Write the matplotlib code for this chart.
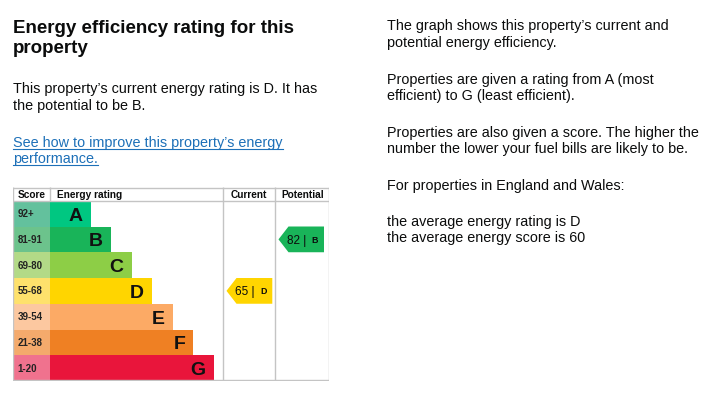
import matplotlib
matplotlib.use('Agg')
import matplotlib.pyplot as plt
from matplotlib.lines import Line2D

# ---------------- data ----------------
bands = ['A', 'B', 'C', 'D', 'E', 'F', 'G']
score_ranges = ['92+', '81-91', '69-80', '55-68', '39-54', '21-38', '1-20']
band_min = [92, 81, 69, 55, 39, 21, 1]
band_colors = ['#00c781', '#19b459', '#8dce46', '#ffd500', '#fcaa65', '#ef8023', '#e9153b']
score_colors = ['#63c19d', '#6cc38c', '#b3da87', '#fee16c', '#fcc8a0', '#f4aa6c', '#f0728e']
headers = ['Score', 'Energy rating', 'Current', 'Potential']
current_score = 65
potential_score = 82

title_lines = ['Energy efficiency rating for this', 'property']
intro_lines = ['This property\u2019s current energy rating is D. It has',
               'the potential to be B.']
link_lines = ['See how to improve this property\u2019s energy', 'performance.']
right_lines = [
    ('The graph shows this property\u2019s current and', 30.0),
    ('potential energy efficiency.', 46.7),
    ('Properties are given a rating from A (most', 84.0),
    ('efficient) to G (least efficient).', 100.0),
    ('Properties are also given a score. The higher the', 136.7),
    ('number the lower your fuel bills are likely to be.', 152.7),
    ('For properties in England and Wales:', 190.0),
    ('the average energy rating is D', 226.0),
    ('the average energy score is 60', 241.7),
]

# ---------------- figure ----------------
W, H, DPI = 711, 396, 100
plt.rcParams['font.family'] = ['Liberation Sans', 'DejaVu Sans']
fig = plt.figure(figsize=(W / DPI, H / DPI), dpi=DPI)
fig.patch.set_facecolor('white')

page = fig.add_axes([0, 0, 1, 1])
page.set_xlim(0, W)
page.set_ylim(H, 0)
page.axis('off')

TXT = '#0b0c0c'
LINK = '#1d70b8'
BODY = 10.4

# title
for line, y in zip(title_lines, [32.7, 52.7]):
    page.text(13.3, y, line, fontsize=13.5, fontweight='bold', color=TXT, va='baseline', ha='left')
# intro
for line, y in zip(intro_lines, [93.3, 110.0]):
    page.text(13.3, y, line, fontsize=BODY, color=TXT, va='baseline', ha='left')
# link
link_texts = []
for line, y in zip(link_lines, [146.7, 162.7]):
    t = page.text(13.3, y, line, fontsize=BODY, color=LINK, va='baseline', ha='left')
    link_texts.append((t, y))
# right column
for line, y in right_lines:
    page.text(387.3, y, line, fontsize=BODY, color=TXT, va='baseline', ha='left')

# underline links
fig.canvas.draw()
renderer = fig.canvas.get_renderer()
for t, y in link_texts:
    bb = t.get_window_extent(renderer)
    page.add_line(Line2D([bb.x0, bb.x1], [y + 2.4, y + 2.4], color=LINK, lw=0.8))

# ---------------- EPC chart ----------------
cx0, cx1, cy0, cy1 = 13.0, 329.3, 187.0, 381.0
row_px = 25.75
head_px = cy1 - cy0 - row_px * len(bands)
head_rows = head_px / row_px

ax = fig.add_axes([cx0 / W, (H - cy1) / H, (cx1 - cx0) / W, (cy1 - cy0) / H])
ax.set_xlim(cx0, cx1)
ax.set_ylim(len(bands) - 0.5, -0.5 - head_rows)
ax.axis('off')

score_x1 = 50.0
rating_x1 = 223.3
current_x1 = 275.3

def baseline_for(row, fontsize):
    cap = 0.716 * fontsize * DPI / 72.0
    return row + (cap / 2.0) / row_px

# score cells
ax.barh(range(len(bands)), [score_x1 - cx0] * len(bands), left=cx0, height=1.0,
        color=score_colors, edgecolor='none', zorder=1)
# bars
bar_len = [40.7 + 20.5 * i for i in range(len(bands))]
ax.barh(range(len(bands)), bar_len, left=score_x1, height=1.0,
        color=band_colors, edgecolor='none', zorder=1)

# grid lines
gc = '#c4c4c4'
glw = 1.0
top = -0.5 - head_rows
bot = len(bands) - 0.5
for x in [cx0 + 0.4, rating_x1, current_x1, cx1 - 0.6]:
    ax.plot([x, x], [top, bot], color=gc, lw=glw, solid_capstyle='butt', zorder=2)
ax.plot([score_x1, score_x1], [top, -0.5], color=gc, lw=glw, solid_capstyle='butt', zorder=2)
for y in [top + 0.02, -0.5, bot - 0.02]:
    ax.plot([cx0, cx1], [y, y], color=gc, lw=glw, solid_capstyle='butt', zorder=2)

for i, (b, sr) in enumerate(zip(bands, score_ranges)):
    ax.text(17.3, baseline_for(i, 7), sr, fontsize=7, fontweight='bold',
            color='#222222', va='baseline', ha='left', zorder=5)
    ax.text(score_x1 + bar_len[i] - 8.0, baseline_for(i, 14), b, fontsize=14,
            fontweight='bold', color='#111111', va='baseline', ha='right', zorder=5)

# header
hy = -0.5 - head_rows / 2
hb = hy + (0.716 * 7.3 * DPI / 72 / 2) / row_px
ax.text(17.3, hb, headers[0], fontsize=7.3, fontweight='bold', color=TXT, va='baseline', ha='left')
ax.text(57.3, hb, headers[1], fontsize=7.3, fontweight='bold', color=TXT, va='baseline', ha='left')
ax.text((rating_x1 + current_x1) / 2, hb, headers[2], fontsize=7.3, fontweight='bold',
        color=TXT, va='baseline', ha='center')
ax.text((current_x1 + cx1) / 2, hb, headers[3], fontsize=7.3, fontweight='bold',
        color=TXT, va='baseline', ha='center')

# arrows
def band_index(score):
    for i, m in enumerate(band_min):
        if score >= m:
            return i
    return len(band_min) - 1

def draw_arrow(score, col_left, col_right):
    r = band_index(score)
    tip = col_left + 3.2
    body = tip + 10.0
    right = col_right - 3.0
    xs = [tip, body, right, right, body]
    ys = [r, r - 0.5, r - 0.5, r + 0.5, r + 0.5]
    ax.fill(xs, ys, color=band_colors[r], lw=0, zorder=3)
    ax.text(tip + 8.6, baseline_for(r, 8.5), f'{score} |', fontsize=8.5, color=TXT,
            va='baseline', ha='left', zorder=5)
    ax.text(right - 12.3, baseline_for(r, 6.4), bands[r], fontsize=6.4, fontweight='bold',
            color=TXT, va='baseline', ha='left', zorder=5)

draw_arrow(current_score, rating_x1, current_x1)
draw_arrow(potential_score, current_x1, cx1 - 2.3)

fig.savefig('out.png', dpi=DPI, facecolor='white')
